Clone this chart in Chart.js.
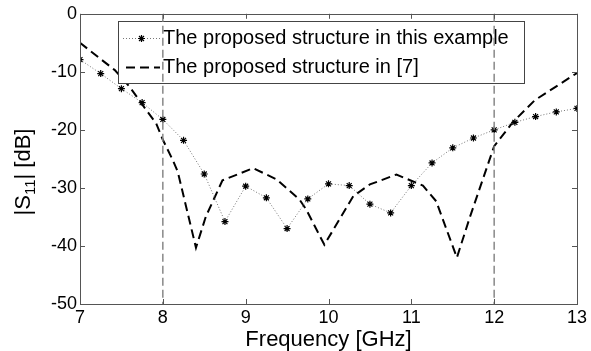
<!DOCTYPE html>
<html>
<head>
<meta charset="utf-8">
<script src="https://cdn.jsdelivr.net/npm/chart.js@4"></script>
<style>
html,body{margin:0;padding:0;background:#fff;}
#wrap{width:591px;height:351px;position:relative;}
</style>
</head>
<body>
<div id="wrap"><canvas id="c" width="591" height="351"></canvas></div>
<script>
// ---- data ----
const freqStar = [7, 7.25, 7.5, 7.75, 8, 8.25, 8.5, 8.75, 9, 9.25, 9.5, 9.75, 10, 10.25, 10.5, 10.75, 11, 11.25, 11.5, 11.75, 12, 12.25, 12.5, 12.75, 13];
const s11Star = [-7.9, -10.3, -12.9, -15.3, -18.2, -21.8, -27.6, -35.8, -29.7, -31.7, -37.0, -31.9, -29.3, -29.6, -32.8, -34.3, -29.6, -25.7, -23.1, -21.4, -20.0, -18.7, -17.7, -16.9, -16.3];
const freqRef = [7.0, 7.42, 7.6, 7.74, 7.92, 8.0, 8.12, 8.18, 8.4, 8.52, 8.72, 9.09, 9.37, 9.65, 9.73, 9.95, 10.3, 10.5, 10.82, 11.14, 11.3, 11.55, 11.71, 12.0, 12.23, 12.49, 13.0];
const s11Ref = [-5.0, -9.7, -12.6, -15.4, -18.9, -21.7, -25.2, -27.2, -40.3, -34.9, -28.7, -26.6, -28.5, -32.0, -33.7, -39.8, -31.4, -29.4, -27.7, -29.6, -32.3, -42.0, -34.9, -22.8, -18.6, -14.9, -10.2];
const bandEdges = [8, 12];
const xTicks = [7, 8, 9, 10, 11, 12, 13];
const yTicks = [0, -10, -20, -30, -40, -50];
const seriesLabels = ['The proposed structure in this example', 'The proposed structure in [7]'];
const xTitle = 'Frequency [GHz]';
const yTitleParts = ['|S', '11', '| [dB]'];

const FONT = '"Liberation Sans", Arial, Helvetica, sans-serif';

const toXY = (xs, ys) => xs.map((x, i) => ({x: x, y: ys[i]}));

const datasets = [];
bandEdges.forEach(f => {
  datasets.push({
    label: 'edge' + f,
    data: [{x: f, y: 0}, {x: f, y: -50}],
    borderColor: '#888888',
    borderWidth: 1.5,
    borderDash: [8, 4],
    pointRadius: 0,
    fill: false
  });
});
datasets.push({
  label: seriesLabels[0],
  data: toXY(freqStar, s11Star),
  borderColor: '#777777',
  borderWidth: 1,
  borderDash: [1, 2],
  pointStyle: 'star',
  pointRadius: 3.5,
  pointBorderColor: '#000000',
  pointBackgroundColor: '#000000',
  pointBorderWidth: 1.2,
  fill: false,
  tension: 0
});
datasets.push({
  label: seriesLabels[1],
  data: toXY(freqRef, s11Ref),
  borderColor: '#000000',
  borderWidth: 2,
  borderDash: [9, 5],
  pointRadius: 0,
  fill: false,
  tension: 0
});

const starIndex = bandEdges.length;
const refIndex = bandEdges.length + 1;

function drawLegend(chart) {
  const ctx = chart.ctx;
  const ds = chart.data.datasets;
  const bx = 118, by = 21, bw = 406, bh = 62;
  ctx.save();
  ctx.fillStyle = '#ffffff';
  ctx.fillRect(bx, by, bw, bh);
  ctx.strokeStyle = '#444444';
  ctx.lineWidth = 1;
  ctx.strokeRect(bx + 0.5, by + 0.5, bw, bh);
  const rows = [{d: ds[starIndex], y: 38}, {d: ds[refIndex], y: 67}];
  rows.forEach((r, i) => {
    ctx.save();
    ctx.strokeStyle = r.d.borderColor;
    ctx.lineWidth = r.d.borderWidth;
    ctx.setLineDash(r.d.borderDash || []);
    ctx.beginPath();
    ctx.moveTo(i === 0 ? 123 : 126, r.y + 0.5);
    ctx.lineTo(160, r.y + 0.5);
    ctx.stroke();
    ctx.restore();
    if (r.d.pointRadius > 0) {
      ctx.save();
      ctx.strokeStyle = r.d.pointBorderColor;
      ctx.fillStyle = r.d.pointBackgroundColor;
      ctx.lineWidth = r.d.pointBorderWidth;
      Chart.helpers.drawPoint(ctx, {pointStyle: r.d.pointStyle, radius: r.d.pointRadius, borderWidth: r.d.pointBorderWidth, rotation: 0}, 141.5, r.y + 0.5);
      ctx.restore();
    }
    ctx.fillStyle = '#000000';
    ctx.font = '20px ' + FONT;
    ctx.textBaseline = 'middle';
    ctx.textAlign = 'left';
    ctx.fillText(r.d.label, 163, r.y);
  });
  ctx.restore();
}

const framePlugin = {
  id: 'frame',
  afterDatasetDraw(chart, args) {
    if (args.index === starIndex) drawLegend(chart);
  },
  afterDraw(chart) {
    const ctx = chart.ctx;
    const a = chart.chartArea;
    const xs = chart.scales.x, ys = chart.scales.y;
    ctx.save();
    ctx.strokeStyle = '#555555';
    ctx.lineWidth = 1;
    ctx.strokeRect(Math.round(a.left) + 0.5, Math.round(a.top) + 0.5, Math.round(a.right - a.left), Math.round(a.bottom - a.top));
    ctx.beginPath();
    const L = 5;
    xTicks.forEach(v => {
      const px = Math.round(xs.getPixelForValue(v)) + 0.5;
      ctx.moveTo(px, a.bottom); ctx.lineTo(px, a.bottom - L);
      ctx.moveTo(px, a.top); ctx.lineTo(px, a.top + L);
    });
    yTicks.forEach(v => {
      const py = Math.round(ys.getPixelForValue(v)) + 0.5;
      ctx.moveTo(a.left, py); ctx.lineTo(a.left + L, py);
      ctx.moveTo(a.right, py); ctx.lineTo(a.right - L, py);
    });
    ctx.stroke();
    // axis titles
    ctx.fillStyle = '#000000';
    ctx.font = '22px ' + FONT;
    ctx.textAlign = 'center';
    ctx.textBaseline = 'alphabetic';
    ctx.fillText(xTitle, (a.left + a.right) / 2, 346);
    // y title rotated with subscript
    ctx.save();
    ctx.translate(30, 172);
    ctx.rotate(-Math.PI / 2);
    const bigF = '22px ' + FONT, smallF = '15px ' + FONT;
    ctx.font = bigF; const w0 = ctx.measureText(yTitleParts[0]).width;
    ctx.font = smallF; const w1 = ctx.measureText(yTitleParts[1]).width;
    ctx.font = bigF; const w2 = ctx.measureText(yTitleParts[2]).width;
    let x0 = -(w0 + w1 + w2) / 2;
    ctx.textAlign = 'left';
    ctx.font = bigF; ctx.fillText(yTitleParts[0], x0, 0);
    ctx.font = smallF; ctx.fillText(yTitleParts[1], x0 + w0, 5);
    ctx.font = bigF; ctx.fillText(yTitleParts[2], x0 + w0 + w1, 0);
    ctx.restore();
    ctx.restore();
  }
};

new Chart(document.getElementById('c'), {
  type: 'line',
  data: {datasets: datasets},
  options: {
    responsive: false,
    animation: false,
    devicePixelRatio: 1,
    layout: {padding: {top: 13, right: 14, left: 0, bottom: 0}},
    plugins: {legend: {display: false}, tooltip: {enabled: false}},
    scales: {
      x: {
        type: 'linear',
        min: 7, max: 13,
        afterBuildTicks: s => { s.ticks = xTicks.map(v => ({value: v})); },
        afterFit: s => { s.height = 47; },
        grid: {display: false, drawTicks: false, tickLength: 0},
        border: {display: false},
        ticks: {color: '#000', font: {family: FONT, size: 18}, padding: 3, maxRotation: 0}
      },
      y: {
        type: 'linear',
        min: -50, max: 0,
        afterBuildTicks: s => { s.ticks = yTicks.map(v => ({value: v})); },
        afterFit: s => { s.width = 80; },
        grid: {display: false, drawTicks: false, tickLength: 0},
        border: {display: false},
        ticks: {color: '#000', font: {family: FONT, size: 18}, padding: 3}
      }
    }
  },
  plugins: [framePlugin]
});
</script>
</body>
</html>
